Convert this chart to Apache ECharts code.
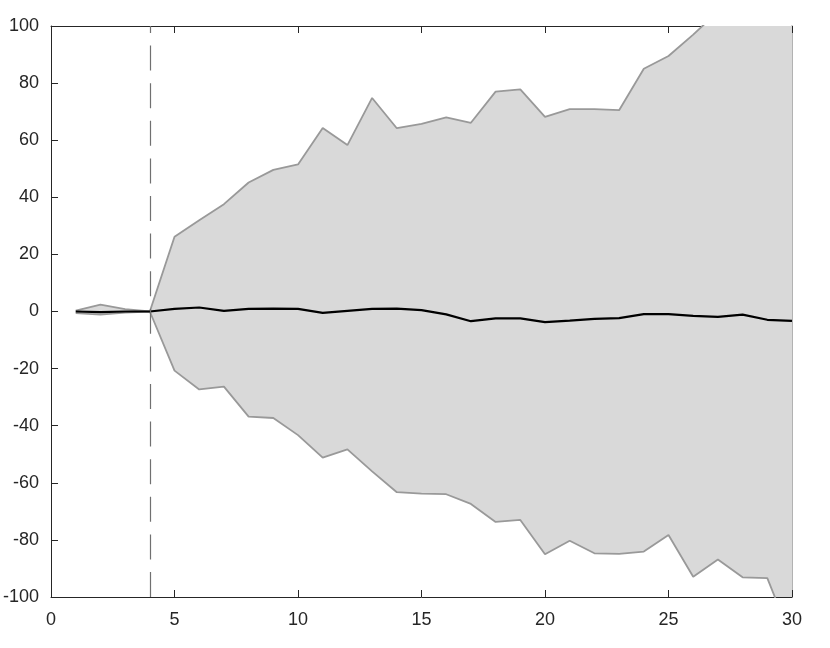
<!DOCTYPE html>
<html>
<head>
<meta charset="utf-8">
<script src="https://cdn.jsdelivr.net/npm/echarts@6/dist/echarts.min.js"></script>
<style>
html,body{margin:0;padding:0;background:#fff;}
#chart{width:830px;height:648px;}
</style>
</head>
<body>
<div id="chart"></div>
<script>
var horizon = [1,2,3,4,5,6,7,8,9,10,11,12,13,14,15,16,17,18,19,20,21,22,23,24,25,26,27,28,29,30];
var median  = [0,-0.2,0,0,0.9,1.4,0.2,0.9,1.0,0.9,-0.5,0.2,0.9,1.0,0.5,-1.0,-3.4,-2.4,-2.4,-3.7,-3.2,-2.6,-2.3,-0.9,-0.9,-1.5,-1.9,-1.1,-2.9,-3.3];
var upper   = [0.3,2.4,0.8,0,26.2,32,37.6,45.2,49.6,51.5,64.3,58.3,74.8,64.2,65.7,68,66.1,77,77.8,68.2,70.9,70.9,70.5,85,89.5,97,105,110,116,122];
var lower   = [-0.6,-1.1,-0.4,0,-20.7,-27.3,-26.3,-36.8,-37.3,-43.3,-51.2,-48.3,-56,-63.3,-63.8,-64,-67.4,-73.7,-73,-85,-80.3,-84.7,-84.9,-84.1,-78.3,-92.9,-86.9,-93.1,-93.4,-115];
var shockPeriod = 4;
var xTicks = {min:0, max:30, interval:5};
var yTicks = {min:-100, max:100, interval:20};

var fontFamily = '"Liberation Sans", Arial, Helvetica, sans-serif';
var axisColor = '#262626';
var edgeColor = '#999999';
var fillColor = '#d9d9d9';

function pairs(ys){ return horizon.map(function(x,i){ return [x, ys[i]]; }); }
var bandData = horizon.map(function(x,i){ return [x, lower[i], upper[i]]; });

var chart = echarts.init(document.getElementById('chart'), null, {renderer:'canvas'});
chart.setOption({
  animation:false,
  backgroundColor:'#ffffff',
  grid:{left:51, right:38, top:26, bottom:51, containLabel:false},
  xAxis:[{
    type:'value', min:xTicks.min, max:xTicks.max, interval:xTicks.interval, position:'bottom',
    axisLine:{show:true, onZero:false, lineStyle:{color:axisColor, width:1}},
    axisTick:{show:true, inside:true, length:7, lineStyle:{color:axisColor, width:1}},
    axisLabel:{show:true, color:axisColor, fontSize:18, fontFamily:fontFamily, margin:14},
    splitLine:{show:false}
  },{
    type:'value', min:xTicks.min, max:xTicks.max, interval:xTicks.interval, position:'top',
    axisLine:{show:true, onZero:false, lineStyle:{color:axisColor, width:1}},
    axisTick:{show:true, inside:true, length:7, lineStyle:{color:axisColor, width:1}},
    axisLabel:{show:false}, splitLine:{show:false}
  }],
  yAxis:[{
    type:'value', min:yTicks.min, max:yTicks.max, interval:yTicks.interval, position:'left',
    axisLine:{show:true, onZero:false, lineStyle:{color:axisColor, width:1}},
    axisTick:{show:true, inside:true, length:7, lineStyle:{color:axisColor, width:1}},
    axisLabel:{show:true, color:axisColor, fontSize:18, fontFamily:fontFamily, margin:12},
    splitLine:{show:false}
  },{
    type:'value', min:yTicks.min, max:yTicks.max, interval:yTicks.interval, position:'right',
    axisLine:{show:true, onZero:false, lineStyle:{color:edgeColor, width:1.5}},
    axisTick:{show:false}, axisLabel:{show:false}, splitLine:{show:false}
  }],
  series:[{
    name:'band', type:'custom', data:bandData, clip:true, z:1, silent:true,
    encode:{x:0, y:[1,2]},
    renderItem:function(params, api){
      if (params.dataIndex !== 0) return null;
      var pts = [];
      for (var i = 0; i < bandData.length; i++) pts.push(api.coord([bandData[i][0], bandData[i][2]]));
      for (var j = bandData.length - 1; j >= 0; j--) pts.push(api.coord([bandData[j][0], bandData[j][1]]));
      return {type:'polygon', shape:{points:pts}, style:{fill:fillColor, stroke:null}};
    }
  },{
    name:'upper', type:'line', data:pairs(upper), symbol:'none', z:3, clip:true,
    lineStyle:{color:edgeColor, width:1.8}
  },{
    name:'lower', type:'line', data:pairs(lower), symbol:'none', z:3, clip:true,
    lineStyle:{color:edgeColor, width:1.8}
  },{
    name:'median', type:'line', data:pairs(median), symbol:'none', z:4, clip:true,
    lineStyle:{color:'#000000', width:2.2},
    markLine:{
      silent:true, symbol:'none', label:{show:false},
      lineStyle:{color:'#707070', width:1.2, type:[25,12.6]},
      data:[{xAxis:shockPeriod}]
    }
  }]
});
</script>
</body>
</html>
